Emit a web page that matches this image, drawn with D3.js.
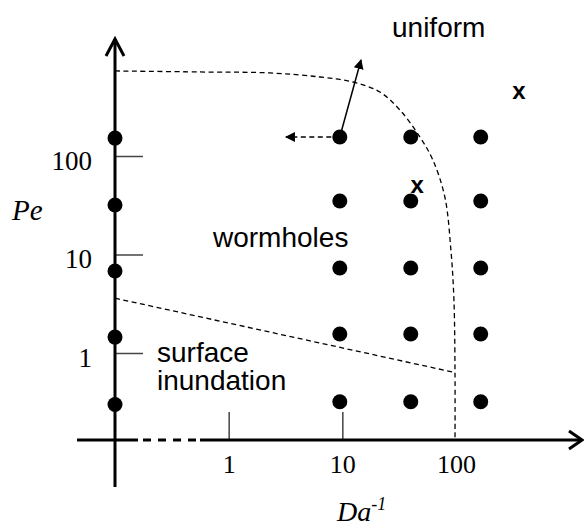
<!DOCTYPE html>
<html>
<head>
<meta charset="utf-8">
<script src="https://cdn.jsdelivr.net/npm/d3@7"></script>
<style>
  html, body { margin: 0; padding: 0; background: #fff; }
  .serif { font-family: "Liberation Serif", "Times New Roman", serif; }
  .sans { font-family: "Liberation Sans", Arial, sans-serif; }
</style>
</head>
<body>
<svg id="chart" width="584" height="529"></svg>
<script>
// experiment grid (Da^-1, Pe)
const colDa = [9.5, 40, 165];
const rowPe = [156, 34.9, 7.3, 1.56, 0.32];
// runs with Da^-1 = 0, sitting on the Pe axis
const axisPe = [152, 31.8, 6.8, 1.45, 0.30];
const AXIS_DA = 0.1; // where the Pe axis crosses (drawn as "0")

// "x" marks
const crossDa = [357, 45.5];
const crossPe = [464, 51];

// regime boundaries
const uniformDa = [0.1, 0.56, 2.31, 6.35, 12.4, 21.4, 32.1, 48.1, 62.6, 79.9, 90.2, 95.9, 98, 98];
const uniformPe = [730, 713, 697, 634, 564, 446, 293, 156, 91, 38, 11.1, 3.45, 0.64, 0.13];
const surfaceDa = [0.1, 94];
const surfacePe = [3.6, 0.64];

// arrows out of the (9.5, 156) run
const arrowFrom = [[9.5, 156], [9.5, 156]];
const arrowTo = [[14.6, 944], [3.19, 156]];
const arrowDashed = [false, true];

const xTicks = [1, 10, 100];
const yTicks = [1, 10, 100];

const svg = d3.select("#chart");

const x = d3.scaleLog().domain([0.1, 100]).range([115, 456]);
const y = d3.scaleLog().domain([1, 100]).range([353, 156]);

const axisX = x(AXIS_DA);
const axisY = 440;

// markers
const defs = svg.append("defs");
defs.append("marker")
    .attr("id", "tri")
    .attr("viewBox", "0 0 10 10")
    .attr("refX", 9)
    .attr("refY", 5)
    .attr("markerWidth", 10)
    .attr("markerHeight", 10)
    .attr("markerUnits", "userSpaceOnUse")
    .attr("orient", "auto")
    .append("path")
    .attr("d", "M0,0 L10,5 L0,10 Z")
    .attr("fill", "#000");

// boundaries
const line = d3.line().x(d => x(d[0])).y(d => y(d[1])).curve(d3.curveCatmullRom.alpha(0.5));
svg.append("path")
    .datum(uniformDa.map((d, i) => [d, uniformPe[i]]))
    .attr("d", line)
    .attr("fill", "none")
    .attr("stroke", "#000")
    .attr("stroke-width", 1.3)
    .attr("stroke-dasharray", "5,3.5");
svg.append("path")
    .datum(surfaceDa.map((d, i) => [d, surfacePe[i]]))
    .attr("d", d3.line().x(d => x(d[0])).y(d => y(d[1])))
    .attr("fill", "none")
    .attr("stroke", "#000")
    .attr("stroke-width", 1.3)
    .attr("stroke-dasharray", "5,3.5");

// ticks
const yAxis = svg.append("g")
    .attr("transform", `translate(${axisX},0)`)
    .call(d3.axisLeft(y).tickValues(yTicks).tickSize(-28).tickPadding(23).tickFormat(d3.format("d")));
yAxis.select(".domain").remove();
yAxis.selectAll(".tick line").attr("stroke", "#444").attr("stroke-width", 1.5);
yAxis.selectAll(".tick text")
    .attr("class", "serif")
    .attr("font-size", 27)
    .attr("dy", 13)
    .attr("fill", "#000");

const xAxis = svg.append("g")
    .attr("transform", `translate(0,${axisY})`)
    .call(d3.axisBottom(x).tickValues(xTicks).tickSize(-28).tickPadding(0).tickFormat(d3.format("d")));
xAxis.select(".domain").remove();
xAxis.selectAll(".tick line")
    .attr("stroke", "#444")
    .attr("stroke-width", 1.5)
    .attr("display", d => d === 100 ? "none" : null);
xAxis.selectAll(".tick text")
    .attr("class", "serif")
    .attr("font-size", 26)
    .attr("dy", 33)
    .attr("fill", "#000");

// main axis lines
const ax = svg.append("g").attr("stroke", "#000").attr("stroke-width", 3).attr("fill", "none");
ax.append("line").attr("x1", axisX).attr("x2", axisX).attr("y1", 487).attr("y2", 39);
ax.append("path").attr("d", `M${axisX - 9},56 L${axisX},39 L${axisX + 9},56`);
ax.append("line").attr("x1", 77).attr("x2", 138).attr("y1", axisY).attr("y2", axisY);
ax.append("line").attr("x1", 143).attr("x2", 196).attr("y1", axisY).attr("y2", axisY)
    .attr("stroke-dasharray", "8,7");
ax.append("line").attr("x1", 200).attr("x2", 582).attr("y1", axisY).attr("y2", axisY);
ax.append("path").attr("d", `M569,${axisY - 9} L582,${axisY} L569,${axisY + 9}`);

// arrows
svg.append("g").selectAll("line")
    .data(arrowFrom)
    .join("line")
    .attr("x1", d => x(d[0]))
    .attr("y1", d => y(d[1]))
    .attr("x2", (d, i) => x(arrowTo[i][0]))
    .attr("y2", (d, i) => y(arrowTo[i][1]))
    .attr("stroke", "#000")
    .attr("stroke-width", 1.5)
    .attr("stroke-dasharray", (d, i) => arrowDashed[i] ? "5,3.5" : null)
    .attr("marker-end", "url(#tri)");

// run dots
const grid = [];
colDa.forEach(da => rowPe.forEach(pe => grid.push([da, pe])));
svg.append("g").selectAll("circle")
    .data(grid)
    .join("circle")
    .attr("cx", d => x(d[0]))
    .attr("cy", d => y(d[1]))
    .attr("r", 7.5)
    .attr("fill", "#000");
svg.append("g").selectAll("circle")
    .data(axisPe)
    .join("circle")
    .attr("cx", axisX)
    .attr("cy", d => y(d))
    .attr("r", 7.5)
    .attr("fill", "#000");

// x marks
svg.append("g").selectAll("text")
    .data(crossDa)
    .join("text")
    .attr("class", "sans")
    .attr("x", d => x(d))
    .attr("y", (d, i) => y(crossPe[i]))
    .attr("dy", "0.35em")
    .attr("text-anchor", "middle")
    .attr("font-size", 24)
    .attr("font-weight", "bold")
    .text("x");

// regime labels
const lab = svg.append("g").attr("class", "sans").attr("font-size", 28).attr("fill", "#000");
lab.append("text").attr("x", 392).attr("y", 37).text("uniform");
lab.append("text").attr("x", 213).attr("y", 247).text("wormholes");
lab.append("text").attr("x", 157).attr("y", 362).text("surface");
lab.append("text").attr("x", 157).attr("y", 390).text("inundation");

// axis titles
svg.append("text")
    .attr("class", "serif")
    .attr("x", 12).attr("y", 220)
    .attr("font-size", 29)
    .attr("font-style", "italic")
    .text("Pe");
const da = svg.append("text")
    .attr("class", "serif")
    .attr("x", 337).attr("y", 521)
    .attr("font-size", 28)
    .attr("font-style", "italic");
da.append("tspan").text("Da");
da.append("tspan").attr("font-size", 18).attr("dy", -11).text("-1");
</script>
</body>
</html>
